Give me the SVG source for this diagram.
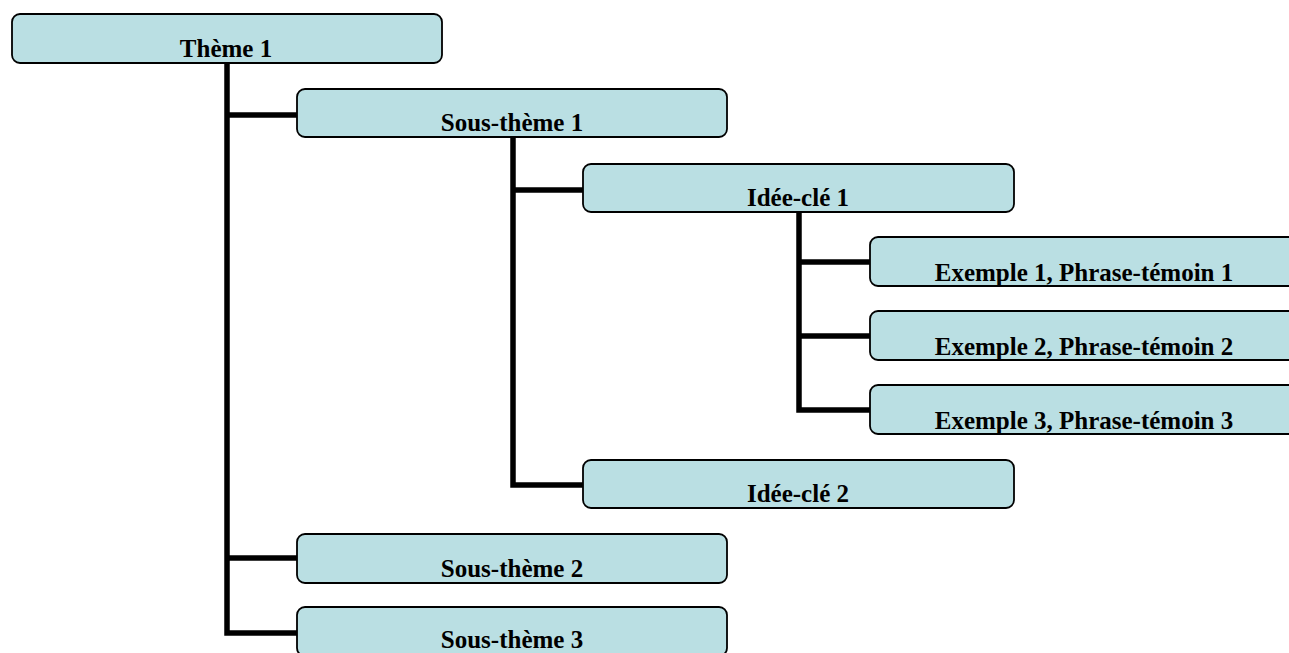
<svg xmlns="http://www.w3.org/2000/svg" width="1289" height="653" viewBox="0 0 1289 653">
<style>
.box{fill:#BADFE3;stroke:#000;stroke-width:1.8}
.lbl{font-family:"Liberation Serif","Times New Roman",serif;font-weight:bold;font-size:25px;fill:#000;text-anchor:middle}
.con{fill:none;stroke:#000;stroke-width:5.5;stroke-linejoin:miter}
</style>
<rect width="1289" height="653" fill="#fff"/>
<g id="connectors">
<path class="con" d="M227 63 V633 H298"/>
<path class="con" d="M227 115 H298"/>
<path class="con" d="M227 558 H298"/>
<path class="con" d="M513 137 V485 H584"/>
<path class="con" d="M513 190 H584"/>
<path class="con" d="M799 212 V410 H871"/>
<path class="con" d="M799 262 H871"/>
<path class="con" d="M799 336 H871"/>
</g>
<g id="theme1"><rect class="box" x="12" y="14" width="430" height="49" rx="8"/><text class="lbl" x="226" y="57">Thème 1</text></g>
<g id="soustheme1"><rect class="box" x="297" y="89" width="430" height="48" rx="8"/><text class="lbl" x="512" y="131">Sous-thème 1</text></g>
<g id="ideecle1"><rect class="box" x="583" y="164" width="431" height="48" rx="8"/><text class="lbl" x="798" y="206">Idée-clé 1</text></g>
<g id="exemple1"><rect class="box" x="870" y="237" width="430" height="49" rx="8"/><text class="lbl" x="1084" y="281">Exemple 1, Phrase-témoin 1</text></g>
<g id="exemple2"><rect class="box" x="870" y="311" width="430" height="49" rx="8"/><text class="lbl" x="1084" y="355">Exemple 2, Phrase-témoin 2</text></g>
<g id="exemple3"><rect class="box" x="870" y="385" width="430" height="49" rx="8"/><text class="lbl" x="1084" y="429">Exemple 3, Phrase-témoin 3</text></g>
<g id="ideecle2"><rect class="box" x="583" y="460" width="431" height="48" rx="8"/><text class="lbl" x="798" y="502">Idée-clé 2</text></g>
<g id="soustheme2"><rect class="box" x="297" y="534" width="430" height="49" rx="8"/><text class="lbl" x="512" y="577">Sous-thème 2</text></g>
<g id="soustheme3"><rect class="box" x="297" y="607" width="430" height="49" rx="8"/><text class="lbl" x="512" y="648">Sous-thème 3</text></g>
</svg>
